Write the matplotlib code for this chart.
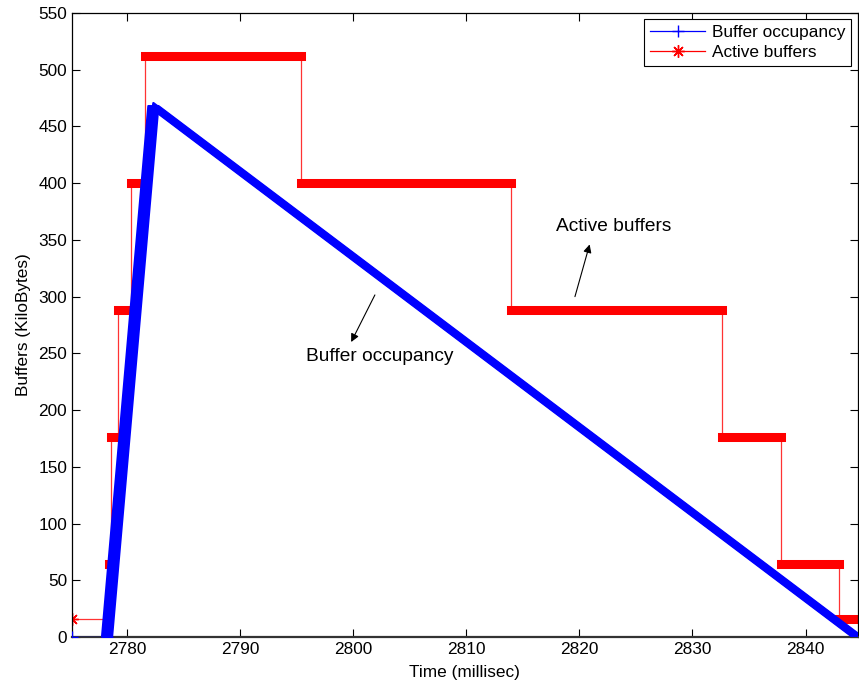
import numpy as np
import matplotlib
matplotlib.use("Agg")
import matplotlib.pyplot as plt
from matplotlib.transforms import offset_copy

plt.rcParams['font.family'] = ['Liberation Sans', 'DejaVu Sans']

# buffer occupancy (KiloBytes) vs time (millisec), break points of the trace
blue_t = [2775.1, 2778.2, 2782.3, 2844.6]
blue_buf = [0, 0, 468, 0]

# active buffers, step levels starting at each time (last entry = end of trace)
red_t = [2775.1, 2778.35, 2778.55, 2779.15, 2780.3, 2781.55, 2795.4, 2813.9, 2832.6, 2837.8, 2843.0, 2844.6]
red_level = [16, 64, 176, 288, 400, 512, 400, 288, 176, 64, 16, 16]

x_ticks = [2780, 2790, 2800, 2810, 2820, 2830, 2840]
y_ticks = np.arange(0, 551, 50)

ASTERISK = (8, 2, 0)
FS = 12.4
FS_NOTE = 13.8

fig = plt.figure(figsize=(8.59, 6.85), dpi=100)
ax = fig.add_axes([72 / 859, 1 - 637 / 685, 785.5 / 859, 624 / 685])

"""
RED: active buffers
"""
ax.step(red_t, red_level, where='post', color='red', lw=0.9, alpha=0.8)
# thick bands where the samples are dense
ax.hlines(red_level[1:-1], red_t[1:-1], red_t[2:], colors='red', lw=6.5,
          capstyle='projecting', zorder=2)
ax.plot(red_t[:1], red_level[:1], ls='none', marker=ASTERISK, color='red',
        ms=9, mew=1)
ax.plot([], [], color='red', lw=0.9, marker=ASTERISK, ms=9, mew=1,
        label='Active buffers')

"""
BLUE: buffer occupancy
"""
ax.plot(blue_t[:2], blue_buf[:2], color='blue', lw=0.9, marker='+', ms=9, zorder=3)
# '+' shaped smear to mimic the densely drawn markers
offsets = [(dx, 0) for dx in np.linspace(-5, 5, 9)] + \
          [(0, dy) for dy in np.linspace(-3, 3, 5)]
for dx, dy in offsets:
    tr = offset_copy(ax.transData, fig, x=dx, y=dy, units='dots')
    ax.plot(blue_t[1:], blue_buf[1:], color='blue', lw=1.6,
            transform=tr, zorder=3, solid_capstyle='butt')
ax.plot([], [], color='blue', lw=0.9, marker='+', ms=9, label='Buffer occupancy')

# annotations
ax.annotate('', xy=(2820.9, 346), xytext=(2819.6, 300),
            arrowprops=dict(arrowstyle='-|>', color='black', lw=0.8,
                            mutation_scale=12, shrinkA=0, shrinkB=0))
ax.text(2823.0, 362, 'Active buffers', fontsize=FS_NOTE, ha='center', va='center')
ax.annotate('', xy=(2799.8, 260), xytext=(2801.9, 301.5),
            arrowprops=dict(arrowstyle='-|>', color='black', lw=0.8,
                            mutation_scale=12, shrinkA=0, shrinkB=0))
ax.text(2802.3, 247, 'Buffer occupancy', fontsize=FS_NOTE, ha='center', va='center')

ax.set_xlim(2775.1, 2844.6)
ax.set_ylim(0, 550)
ax.set_xticks(x_ticks)
ax.set_yticks(y_ticks)
ax.tick_params(axis='both', which='major', labelsize=FS, direction='in',
               top=True, right=True, length=6, width=0.8)
for s in ax.spines.values():
    s.set_linewidth(0.9)
ax.spines['bottom'].set_linewidth(1.6)
ax.spines['bottom'].set_color('#333333')

ax.set_xlabel('Time (millisec)', fontsize=FS, labelpad=6)
ax.set_ylabel('Buffers (KiloBytes)', fontsize=FS, labelpad=5)

handles, labels = ax.get_legend_handles_labels()
leg = ax.legend(handles[::-1], labels[::-1], loc='upper right', fontsize=FS,
                fancybox=False, edgecolor='black', framealpha=1,
                borderaxespad=0.35, handlelength=3.2, borderpad=0.35,
                labelspacing=0.3, handletextpad=0.4)
leg.get_frame().set_linewidth(0.8)

plt.savefig('out.png', dpi=100)
